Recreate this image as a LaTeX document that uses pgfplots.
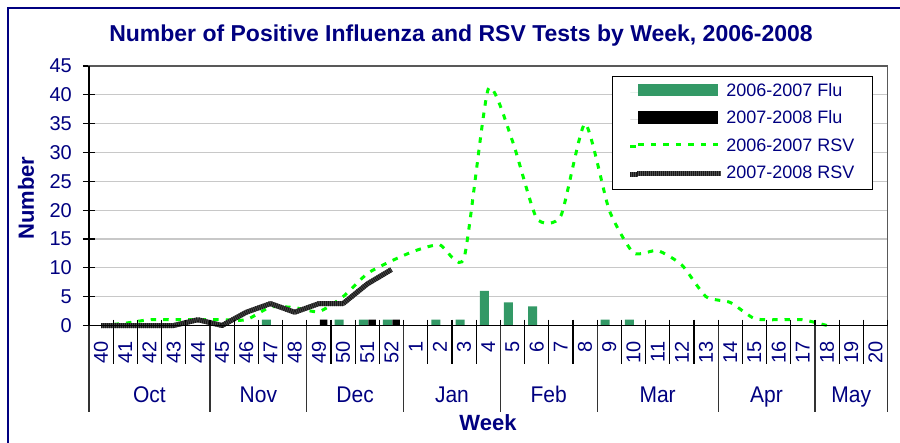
\documentclass[border=0pt]{standalone}
\usepackage{fontspec}
\setmainfont{Liberation Sans}
\usepackage{pgfplots}
\pgfplotsset{compat=1.18}
\definecolor{navytext}{HTML}{000080}
\definecolor{fluGreen}{HTML}{339966}
\definecolor{rsvGreen}{HTML}{00FF00}
\definecolor{gridgray}{HTML}{C8C8C8}

\begin{document}
\begin{tikzpicture}[x=1pt,y=1pt]
\useasboundingbox (0,0) rectangle (900,-442);
\draw[navytext, line width=2pt] (7.5,-443) -- (7.5,-7.5) -- (901,-7.5);
\node[anchor=base, font=\fontsize{23}{23}\selectfont\bfseries, text=navytext] at (461,-41.7) {Number of Positive Influenza and RSV Tests by Week, 2006-2008};
\node[rotate=90, anchor=base, font=\fontsize{22}{22}\selectfont\bfseries, text=navytext] at (34,-198) {Number};
\node[anchor=base, font=\fontsize{22}{22}\selectfont\bfseries, text=navytext] at (488,-430.7) {Week};

\begin{axis}[
  at={(89pt,-325.5pt)}, anchor=south west,
  scale only axis, width=798.5pt, height=259.5pt,
  xmin=-0.5, xmax=32.5, ymin=0, ymax=45,
  clip=false,
  axis line style={black!65, line width=1.2pt},
  ytick={0,5,...,45},
  ymajorgrids, grid style={gridgray, line width=1.2pt},
  ytick pos=left,
  tick align=center, major tick length=12pt,
  tick style={black, line width=1.2pt},
  xtick={0,...,32},
  xticklabels={40,41,42,43,44,45,46,47,48,49,50,51,52,1,2,3,4,5,6,7,8,9,10,11,12,13,14,15,16,17,18,19,20},
  xtick style={draw=none},
  /pgf/number format/assume math mode=true,
  yticklabel style={font=\fontsize{20}{20}\selectfont, text=navytext, inner sep=0pt, anchor=east},
  yticklabel shift=11pt,
  xticklabel style={font=\fontsize{20}{20}\selectfont, text=navytext, rotate=90, anchor=east, inner sep=0pt},
  xticklabel shift=10pt,
  legend style={at={(axis description cs:0.9818,0.9615)}, anchor=north east,
    draw=black, line width=1.2pt, fill=white,
    font=\fontsize{18}{18}\selectfont, text=navytext,
    inner xsep=15.5pt, inner ysep=4.5pt, row sep=5.4pt, column sep=0pt,
    nodes={inner sep=2.5pt, text height=13pt, text depth=4pt}},
  legend cell align=left,
]
% 2006-2007 Flu
\addplot[ybar, fill=fluGreen, draw=none, bar width=9pt, bar shift=-4pt,
  legend image code/.code={\path (-8pt,0pt) -- (0pt,0pt); \fill[fluGreen] (0pt,-4pt) rectangle (80pt,8pt);}]
  coordinates {(7,1) (10,1) (11,1) (12,1) (14,1) (15,1) (16,6) (17,4) (18,3.3) (21,1) (22,1)};
\addlegendentry{2006-2007 Flu}
% 2007-2008 Flu
\addplot[ybar, fill=black, draw=none, bar width=7.5pt, bar shift=4.75pt,
  legend image code/.code={\path (-8pt,0pt) -- (0pt,0pt); \fill[black] (0pt,-4.5pt) rectangle (80pt,8pt);}]
  coordinates {(9,1) (11,1) (12,1)};
\addlegendentry{2007-2008 Flu}
% 2006-2007 RSV
\addplot[rsvGreen, line width=3pt, dash pattern=on 5.5pt off 7pt, smooth, tension=0.35, mark=none,
  legend image code/.code={\path (-8pt,0pt) -- (0pt,0pt); \draw[rsvGreen, line width=3pt, dash pattern=on 5.5pt off 7pt] (0pt,2pt) -- (80pt,2pt);}]
  coordinates {(0,0) (1,0.4) (2,1) (3,1) (4,1) (5,1) (6,1) (7,3.2) (8,3.1) (9,2.4) (10,5) (11,9) (12,11.2)
   (13,13) (14,14) (15,11.7) (16,41) (17,32) (18,18.6) (19,19) (20,35) (21,20) (22,12.6) (23,13) (24,10.5)
   (25,5) (26,4) (27,1.2) (28,1) (29,1) (30,0)};
\addlegendentry{2006-2007 RSV}
% 2007-2008 RSV
\addplot[black!70, line width=5pt, line join=round, mark=none,
  postaction={draw=black!90, line width=5pt, dash pattern=on 1pt off 1pt},
  legend image code/.code={\path (-8pt,0pt) -- (0pt,0pt); \draw[black!70, line width=5pt, postaction={draw=black!90, line width=5pt, dash pattern=on 1pt off 1pt}] (-1pt,0.5pt) -- (83pt,0.5pt);}]
  coordinates {(0,0) (1,0) (2,0) (3,0) (4,1) (5,0) (6,2.3) (7,3.8) (8,2.3) (9,3.8) (10,3.8) (11,7.2) (12,9.7)};
\addlegendentry{2007-2008 RSV}
% axis lines (left, bottom) in black
\draw[black, line width=1.5pt] (axis cs:-0.5,45) -- (axis cs:-0.5,0) -- (axis cs:32.5,0);
% week ticks
\pgfplotsinvokeforeach{-0.5,0.5,...,32.5}{
  \draw[black, line width=1.2pt] ([yshift=6pt]axis cs:#1,0) -- ([yshift=-38pt]axis cs:#1,0);
}
% month separators
\pgfplotsinvokeforeach{-0.5,4.5,8.5,12.5,16.5,20.5,25.5,29.5,32.5}{
  \draw[black!80, line width=1.2pt] (axis cs:#1,0) -- ([yshift=-86.5pt]axis cs:#1,0);
}
% month labels
\node[anchor=base, font=\fontsize{21}{21}\selectfont, text=navytext, yscale=1.08] at ([yshift=-76.5pt]axis cs:2,0) {Oct};
\node[anchor=base, font=\fontsize{21}{21}\selectfont, text=navytext, yscale=1.08] at ([yshift=-76.5pt]axis cs:6.5,0) {Nov};
\node[anchor=base, font=\fontsize{21}{21}\selectfont, text=navytext, yscale=1.08] at ([yshift=-76.5pt]axis cs:10.5,0) {Dec};
\node[anchor=base, font=\fontsize{21}{21}\selectfont, text=navytext, yscale=1.08] at ([yshift=-76.5pt]axis cs:14.5,0) {Jan};
\node[anchor=base, font=\fontsize{21}{21}\selectfont, text=navytext, yscale=1.08] at ([yshift=-76.5pt]axis cs:18.5,0) {Feb};
\node[anchor=base, font=\fontsize{21}{21}\selectfont, text=navytext, yscale=1.08] at ([yshift=-76.5pt]axis cs:23,0) {Mar};
\node[anchor=base, font=\fontsize{21}{21}\selectfont, text=navytext, yscale=1.08] at ([yshift=-76.5pt]axis cs:27.5,0) {Apr};
\node[anchor=base, font=\fontsize{21}{21}\selectfont, text=navytext, yscale=1.08] at ([yshift=-76.5pt]axis cs:31,0) {May};
\end{axis}
\end{tikzpicture}
\end{document}
